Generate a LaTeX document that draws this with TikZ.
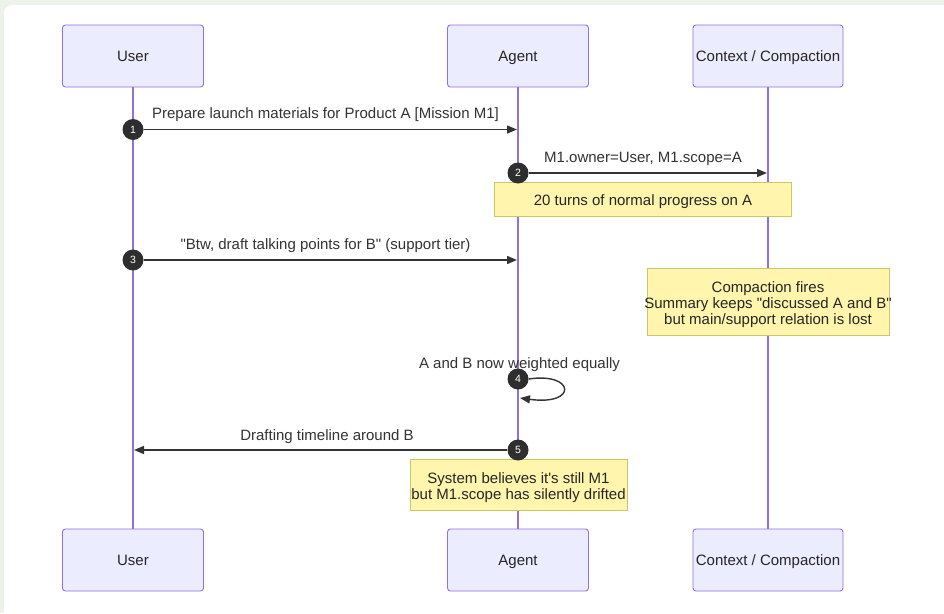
\documentclass[tikz,border=0pt]{standalone}
\usepackage{fontspec}
\setmainfont{Liberation Sans}
\usetikzlibrary{arrows.meta}

\definecolor{bgband}{HTML}{EEF3EA}
\definecolor{actorfill}{HTML}{ECECFF}
\definecolor{actorline}{HTML}{9370DB}
\definecolor{notefill}{HTML}{FFF5AD}
\definecolor{noteline}{HTML}{C8C86A}
\definecolor{ink}{HTML}{333333}

\begin{document}
\begin{tikzpicture}[x=1pt,y=-1pt,
  actor/.style={draw=actorline, fill=actorfill, rounded corners=3pt, line width=0.9pt,
    minimum height=62pt, inner sep=0pt, text height=10.7pt, text depth=0pt,
    font=\fontsize{15}{18}\selectfont, text=black!85},
  lifeline/.style={draw=actorline, line width=2pt},
  msg/.style={draw=ink, line width=1.4pt, -{Triangle[length=10pt,width=8pt]}},
  msglabel/.style={font=\fontsize{15}{18}\selectfont, text=ink, inner sep=0pt,
    text height=10.7pt, text depth=0pt},
  seqnum/.style={circle, fill=ink!90!black, minimum size=21pt, inner sep=0pt,
    text=white, font=\fontsize{10.5}{11}\selectfont},
  notebox/.style={draw=noteline, fill=notefill, line width=0.8pt, inner sep=0pt},
  notetext/.style={inner sep=0pt, align=center, font=\fontsize{15}{16}\selectfont,
    text=black!85}]

\useasboundingbox (0,0) rectangle (944,613);

% page background with the white panel
\begin{scope}
  \clip (0,0) rectangle (944,613);
  \fill[bgband] (0,0) rectangle (944,613);
  \fill[white, rounded corners=8pt] (4,5) rectangle (970,640);
\end{scope}

% participants, top and bottom
\node[actor, minimum width=141pt] (ut) at (133,56) {User};
\node[actor, minimum width=141pt] (at) at (518,56) {Agent};
\node[actor, minimum width=150pt] (ct) at (768,56) {Context / Compaction};
\node[actor, minimum width=141pt] (ub) at (133,560) {User};
\node[actor, minimum width=141pt] (ab) at (518,560) {Agent};
\node[actor, minimum width=150pt] (cb) at (768,560) {Context / Compaction};

% lifelines
\draw[lifeline] (ut.south) -- (ub.north);
\draw[lifeline] (at.south) -- (ab.north);
\draw[lifeline] (ct.south) -- (cb.north);

% notes: box first, then its text
\node[notebox, minimum width=297pt, minimum height=34pt] (note1) at (643,199) {};
\node[notetext] (note1t) at ([yshift=-3pt]note1.center)
  {20 turns of normal progress on A};
\node[notebox, minimum width=242pt, minimum height=67pt] (note2) at (768,302) {};
\node[notetext] (note2t) at ([yshift=-3pt]note2.center)
  {Compaction fires\\Summary keeps \textquotedbl discussed A and B\textquotedbl\\but main/support relation is lost};
\node[notebox, minimum width=217pt, minimum height=51pt] (note3) at (518.5,485) {};
\node[notetext] (note3t) at ([yshift=-2.5pt]note3.center)
  {System believes it\textquotesingle s still M1\\but M1.scope has silently drifted};

% message end points on the lifelines
\coordinate (m1b) at (517,129.5);
\coordinate (m2b) at (767,173);
\coordinate (m3b) at (517,260);
\coordinate (m4b) at (520,398);
\coordinate (m5b) at (134,450);

% numbered markers where each message starts
\node[seqnum] (n1) at (133,129.5) {1};
\node[seqnum] (n2) at (518,173) {2};
\node[seqnum] (n3) at (133,260) {3};
\node[seqnum] (n4) at (518,379) {4};
\node[seqnum] (n5) at (518,450) {5};

% messages
\draw[msg] (n1) -- (m1b);
\draw[msg] (n2) -- (m2b);
\draw[msg] (n3) -- (m3b);
\draw[msg] (n4.east) .. controls (575,372) and (578,406) .. (m4b);
\draw[msg] (n5) -- (m5b);

% message labels
\node[msglabel] (l1) at (325.5,113) {Prepare launch materials for Product A [Mission M1]};
\node[msglabel] (l2) at (643,157) {M1.owner=User, M1.scope=A};
\node[msglabel] (l3) at (325.5,244) {\textquotedbl Btw, draft talking points for B\textquotedbl{} (support tier)};
\node[msglabel] (l4) at (519.5,363) {A and B now weighted equally};
\node[msglabel] (l5) at (327,435) {Drafting timeline around B};

\end{tikzpicture}
\end{document}
